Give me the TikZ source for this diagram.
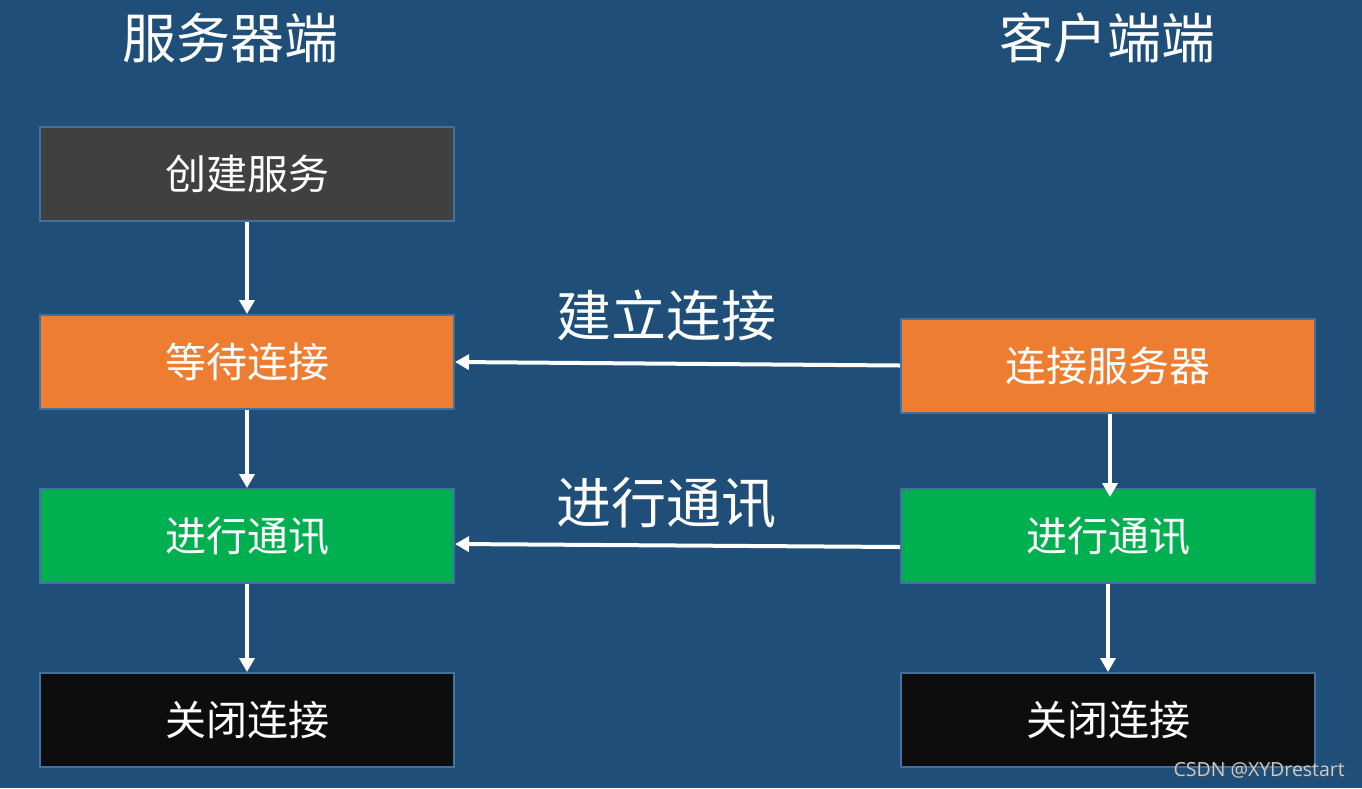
\documentclass[tikz,border=0pt]{standalone}
\usepackage{fontspec}
\newfontfamily\cjk{Noto Sans CJK SC}
\newfontfamily\wm{Open Sans}
\usetikzlibrary{arrows.meta,calc}
\definecolor{bg}{HTML}{1F4E79}
\definecolor{bd}{HTML}{41719C}
\definecolor{cgray}{HTML}{404040}
\definecolor{corange}{HTML}{ED7D31}
\definecolor{cgreen}{HTML}{00B050}
\definecolor{cblack}{HTML}{0D0D0D}
\definecolor{wmark}{HTML}{C8CCD0}
\tikzset{
  stepbox/.style={draw=bd, line width=2pt, minimum width=414pt, minimum height=94pt,
    inner sep=0pt, text=white, font=\cjk\fontsize{41}{46}\selectfont},
  title/.style={text=white, inner sep=0pt, font=\cjk\fontsize{54}{60}\selectfont},
  flow/.style={draw=white, line width=4pt, -{Triangle[width=15pt,length=14pt]}}
}
\begin{document}
\begin{tikzpicture}[x=1pt,y=-1pt]
\fill[bg] (0,0) rectangle (1362,788);
\useasboundingbox (0,0) rectangle (1362,788);
\node[title] (ts) at (230,38) {服务器端};
\node[title] (tc) at (1107,38) {客户端端};
\node[stepbox, fill=cgray] (create) at (247,174) {创建服务};
\node[stepbox, fill=corange] (wait) at (247,362) {等待连接};
\node[stepbox, fill=cgreen] (lcom) at (247,536) {进行通讯};
\node[stepbox, fill=cblack] (lclose) at (247,720) {关闭连接};
\node[stepbox, fill=corange] (conn) at (1108,365.5) {连接服务器};
\node[stepbox, fill=cgreen] (rcom) at (1108,536) {进行通讯};
\node[stepbox, fill=cblack] (rclose) at (1108,720) {关闭连接};
\node[title, font=\cjk\fontsize{55}{60}\selectfont] (l1) at (666,315) {建立连接};
\node[title, font=\cjk\fontsize{55}{60}\selectfont] (l2) at (666,503) {进行通讯};
\draw[flow] (create.south) -- (wait.north);
\draw[flow] (wait.south) -- (lcom.north);
\draw[flow] (lcom.south) -- (lclose.north);
\draw[flow] ([xshift=2pt]conn.south) -- ([xshift=2pt,yshift=-9pt]rcom.north);
\draw[flow] (rcom.south) -- (rclose.north);
\draw[flow] (conn.west) -- (wait.east);
\draw[flow] ([yshift=-11pt]rcom.west) -- ([yshift=-8pt]lcom.east);
\node[anchor=east, text=black!70, opacity=0.6, inner sep=0pt, font=\wm\fontsize{19.5}{22}\selectfont] at (1346.5,771.5) {CSDN @XYDrestart};
\node[anchor=east, text=wmark, inner sep=0pt, font=\wm\fontsize{19.5}{22}\selectfont] (wm) at (1345,770) {CSDN @XYDrestart};
\end{tikzpicture}
\end{document}
